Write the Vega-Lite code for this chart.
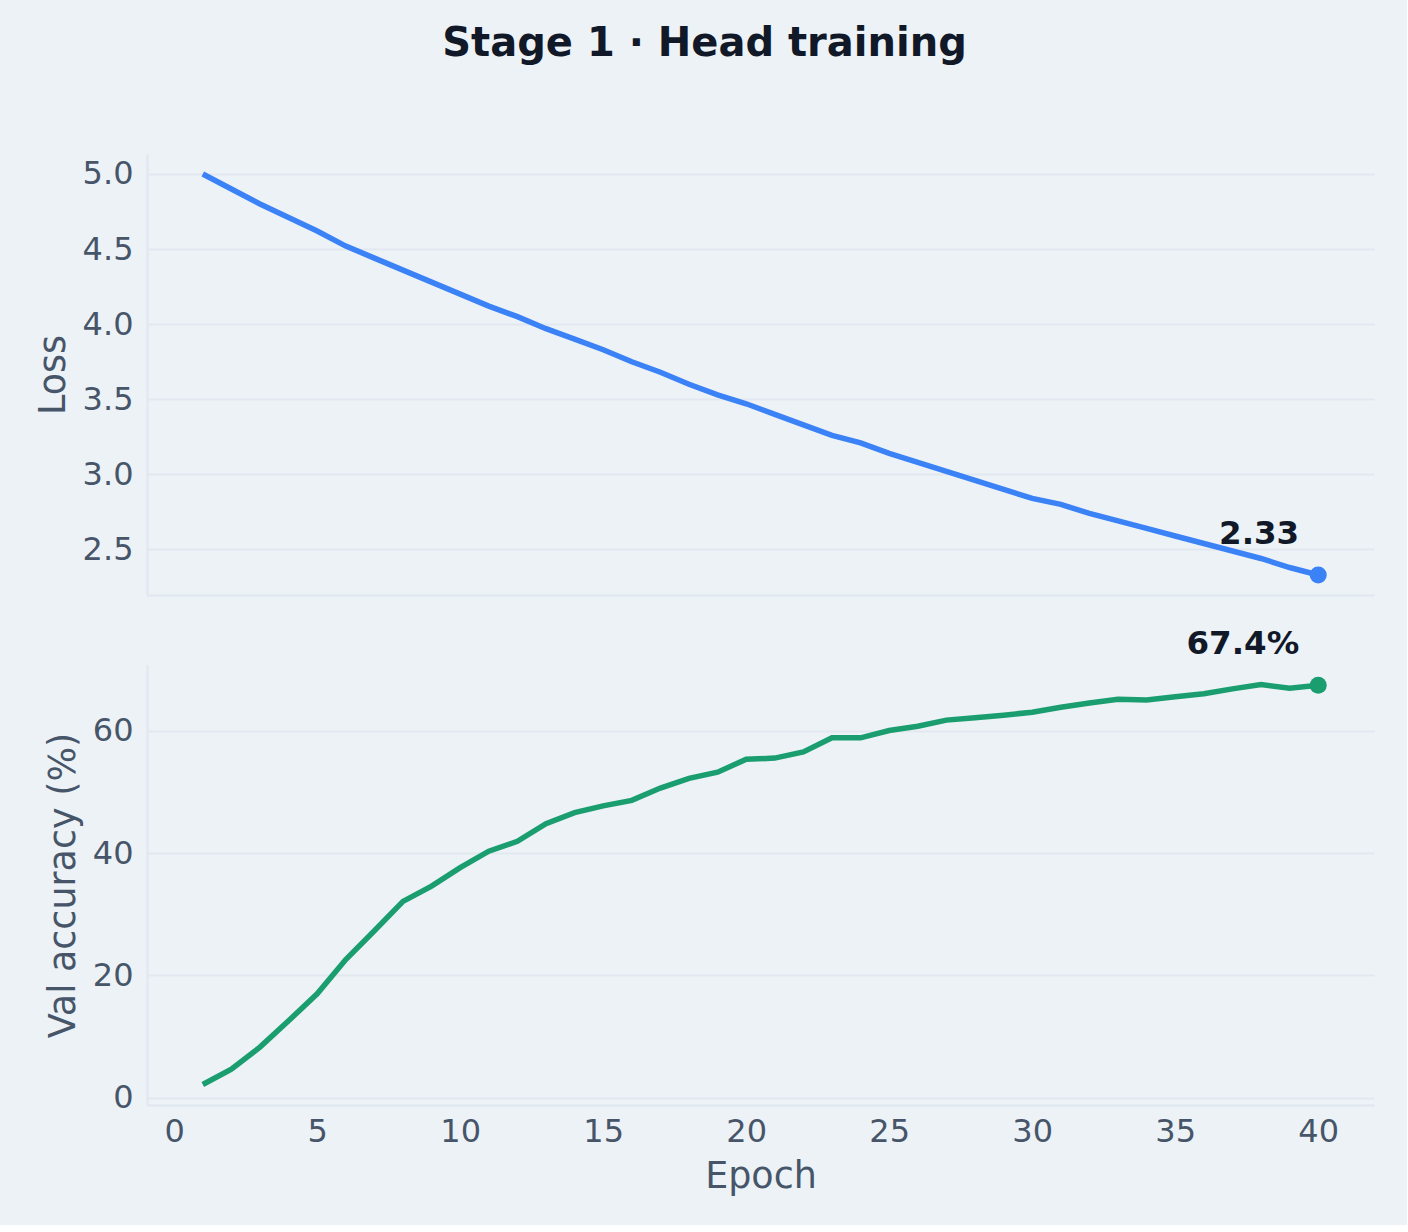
{
  "$schema": "https://vega.github.io/schema/vega-lite/v6.json",
  "background": "#edf2f7",
  "padding": {"left": 35, "top": 24, "right": 33, "bottom": 30},
  "bounds": "flush",
  "spacing": 70,
  "title": {
    "text": "Stage 1 · Head training",
    "fontSize": 40,
    "fontWeight": "bold",
    "color": "#111827",
    "font": "DejaVu Sans",
    "anchor": "middle",
    "offset": 90
  },
  "config": {
    "font": "DejaVu Sans",
    "view": {"stroke": null},
    "axis": {
      "labelFont": "DejaVu Sans",
      "labelFontSize": 32,
      "labelColor": "#475569",
      "titleFont": "DejaVu Sans",
      "titleFontSize": 36.5,
      "titleFontWeight": "normal",
      "titleColor": "#475569",
      "gridColor": "#e2e8f0",
      "gridWidth": 2,
      "domainColor": "#e2e8f0",
      "domainWidth": 2.5,
      "ticks": false,
      "tickSize": 0,
      "labelPadding": 14,
      "titlePadding": 10
    }
  },
  "datasets": {
    "train": [
      {"epoch": 1, "loss": 5.00, "acc": 2.2},
      {"epoch": 2, "loss": 4.90, "acc": 4.7},
      {"epoch": 3, "loss": 4.80, "acc": 8.3},
      {"epoch": 4, "loss": 4.71, "acc": 12.6},
      {"epoch": 5, "loss": 4.62, "acc": 17.0},
      {"epoch": 6, "loss": 4.52, "acc": 22.6},
      {"epoch": 7, "loss": 4.44, "acc": 27.3},
      {"epoch": 8, "loss": 4.36, "acc": 32.1},
      {"epoch": 9, "loss": 4.28, "acc": 34.6},
      {"epoch": 10, "loss": 4.20, "acc": 37.6},
      {"epoch": 11, "loss": 4.12, "acc": 40.3},
      {"epoch": 12, "loss": 4.05, "acc": 41.9},
      {"epoch": 13, "loss": 3.97, "acc": 44.8},
      {"epoch": 14, "loss": 3.90, "acc": 46.6},
      {"epoch": 15, "loss": 3.83, "acc": 47.7},
      {"epoch": 16, "loss": 3.75, "acc": 48.6},
      {"epoch": 17, "loss": 3.68, "acc": 50.6},
      {"epoch": 18, "loss": 3.60, "acc": 52.2},
      {"epoch": 19, "loss": 3.53, "acc": 53.2},
      {"epoch": 20, "loss": 3.47, "acc": 55.3},
      {"epoch": 21, "loss": 3.40, "acc": 55.5},
      {"epoch": 22, "loss": 3.33, "acc": 56.5},
      {"epoch": 23, "loss": 3.26, "acc": 58.8},
      {"epoch": 24, "loss": 3.21, "acc": 58.8},
      {"epoch": 25, "loss": 3.14, "acc": 60.0},
      {"epoch": 26, "loss": 3.08, "acc": 60.7},
      {"epoch": 27, "loss": 3.02, "acc": 61.7},
      {"epoch": 28, "loss": 2.96, "acc": 62.1},
      {"epoch": 29, "loss": 2.90, "acc": 62.5},
      {"epoch": 30, "loss": 2.84, "acc": 63.0},
      {"epoch": 31, "loss": 2.80, "acc": 63.8},
      {"epoch": 32, "loss": 2.74, "acc": 64.5},
      {"epoch": 33, "loss": 2.69, "acc": 65.1},
      {"epoch": 34, "loss": 2.64, "acc": 65.0},
      {"epoch": 35, "loss": 2.59, "acc": 65.5},
      {"epoch": 36, "loss": 2.54, "acc": 66.0},
      {"epoch": 37, "loss": 2.49, "acc": 66.8},
      {"epoch": 38, "loss": 2.44, "acc": 67.5},
      {"epoch": 39, "loss": 2.38, "acc": 66.9},
      {"epoch": 40, "loss": 2.33, "acc": 67.4}
    ],
    "ends": [
      {"epoch": 40, "loss": 2.33, "acc": 67.4, "loss_label": "2.33", "acc_label": "67.4%"}
    ]
  },
  "vconcat": [
    {
      "width": 1227,
      "height": 441,
      "layer": [
        {
          "data": {"name": "train"},
          "mark": {"type": "line", "color": "#3b82f6", "strokeWidth": 5.5},
          "encoding": {
            "x": {"field": "epoch", "type": "quantitative", "scale": {"domain": [-0.95, 41.95], "nice": false, "zero": false},
                  "axis": {"labels": false, "title": null, "grid": false, "domain": true}},
            "y": {"field": "loss", "type": "quantitative", "scale": {"domain": [2.197, 5.133], "nice": false, "zero": false},
                  "axis": {"values": [2.5, 3.0, 3.5, 4.0, 4.5, 5.0], "format": ".1f", "title": "Loss", "grid": true}}
          }
        },
        {
          "data": {"name": "ends"},
          "mark": {"type": "circle", "size": 290, "color": "#3b82f6", "opacity": 1},
          "encoding": {
            "x": {"field": "epoch", "type": "quantitative"},
            "y": {"field": "loss", "type": "quantitative"}
          }
        },
        {
          "data": {"name": "ends"},
          "mark": {"type": "text", "align": "right", "baseline": "alphabetic", "dx": -19, "dy": -31, "fontSize": 32.5, "fontWeight": "bold", "color": "#111827"},
          "encoding": {
            "x": {"field": "epoch", "type": "quantitative"},
            "y": {"field": "loss", "type": "quantitative"},
            "text": {"field": "loss_label"}
          }
        }
      ]
    },
    {
      "width": 1227,
      "height": 440,
      "layer": [
        {
          "data": {"name": "train"},
          "mark": {"type": "line", "color": "#1b9e6f", "strokeWidth": 5.5},
          "encoding": {
            "x": {"field": "epoch", "type": "quantitative", "scale": {"domain": [-0.95, 41.95], "nice": false, "zero": false},
                  "axis": {"values": [0, 5, 10, 15, 20, 25, 30, 35, 40], "title": "Epoch", "grid": false, "labelPadding": 11, "titlePadding": 11}},
            "y": {"field": "acc", "type": "quantitative", "scale": {"domain": [-1.15, 70.7], "nice": false, "zero": false},
                  "axis": {"values": [0, 20, 40, 60], "title": "Val accuracy (%)", "grid": true}}
          }
        },
        {
          "data": {"name": "ends"},
          "mark": {"type": "circle", "size": 290, "color": "#1b9e6f", "opacity": 1},
          "encoding": {
            "x": {"field": "epoch", "type": "quantitative"},
            "y": {"field": "acc", "type": "quantitative"}
          }
        },
        {
          "data": {"name": "ends"},
          "mark": {"type": "text", "align": "right", "baseline": "alphabetic", "dx": -19, "dy": -31, "fontSize": 32.5, "fontWeight": "bold", "color": "#111827"},
          "encoding": {
            "x": {"field": "epoch", "type": "quantitative"},
            "y": {"field": "acc", "type": "quantitative"},
            "text": {"field": "acc_label"}
          }
        }
      ]
    }
  ]
}
